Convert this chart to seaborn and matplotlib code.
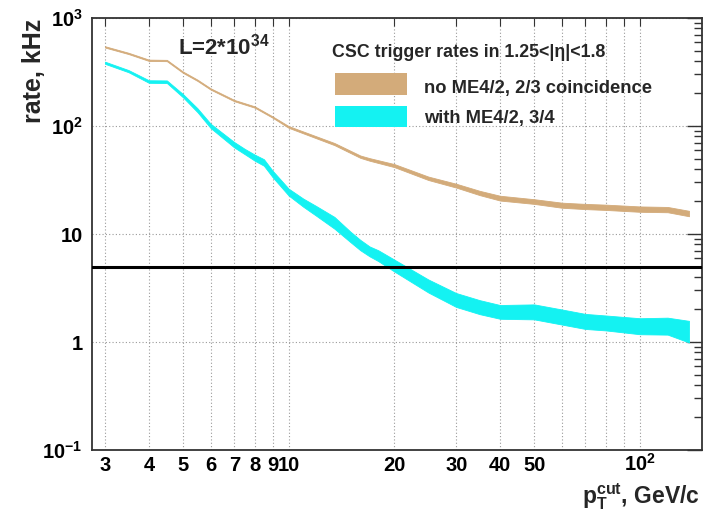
import numpy as np
import pandas as pd
import matplotlib
matplotlib.use("Agg")
import matplotlib.pyplot as plt
import seaborn as sns
from matplotlib.patches import Rectangle
from matplotlib.ticker import FixedLocator, FixedFormatter, NullFormatter

# ---------------- data ----------------
pt_tan = [3, 3.5, 4, 4.5, 5, 5.5, 6, 7, 8, 9, 10, 13.5, 16, 17, 20, 25, 30,
          35, 40, 50, 60, 70, 80, 100, 120, 138]
tan_lo = [532.6, 463.6, 400.4, 398.5, 310.7, 261.4, 217, 169.6, 147.9, 119.3,
          96.2, 66.5, 50.7, 47.7, 41.6, 31.6, 26.9, 22.9, 20.4, 19.0, 17.5,
          17.0, 16.7, 16.05, 15.9, 14.6]
tan_hi = [547.5, 476.5, 411.6, 409.6, 319.4, 268.7, 223, 174.4, 152.1, 122.7,
          99.8, 69.6, 53.3, 50.4, 44.4, 34.0, 29.2, 25.1, 22.6, 21.0, 19.5,
          19.0, 18.7, 18.0, 17.8, 16.4]

pt_cyan = [3, 3.5, 4, 4.5, 5, 5.5, 6, 7, 7.5, 8, 8.5, 9, 10, 11, 12, 13.5, 15,
           16, 17, 18, 20, 25, 30, 35, 40, 50, 60, 70, 80, 100, 120, 138]
cyan_lo = [376.2, 314.7, 251, 250, 184.5, 134.3, 95.5, 63.3, 54.8, 47.8, 42.9,
           33.6, 22.7, 17.9, 14.7, 11.2, 8.4, 7.07, 6.21, 5.61, 4.49, 2.87,
           2.11, 1.81, 1.64, 1.62, 1.45, 1.32, 1.28, 1.18, 1.17, 0.99]
cyan_hi = [394, 329.5, 265.2, 264.2, 197.7, 145.9, 104.7, 71, 61.4, 54.4, 49.3,
           38.6, 26.3, 21.3, 18.1, 14.4, 10.5, 8.82, 7.67, 7.07, 5.79, 3.79,
           2.84, 2.44, 2.2, 2.23, 2.0, 1.82, 1.76, 1.66, 1.68, 1.57]

threshold = 5.0
series_labels = ["no ME4/2, 2/3 coincidence", "with ME4/2, 3/4"]
legend_title = "CSC trigger rates in 1.25<|\u03b7|<1.8"

x_ticks = [3, 4, 5, 6, 7, 8, 9, 10, 20, 30, 40, 50, 60, 70, 80, 90, 100]
x_tick_labels = ["3", "4", "5", "6", "7", "8", "9", "10", "20", "30", "40",
                 "50", "", "", "", "", r"$10^{2}$"]
y_ticks = [0.1, 1, 10, 100, 1000]
y_tick_labels = [r"$10^{-1}$", "1", "10", r"$10^{2}$", r"$10^{3}$"]

# ---------------- style ----------------
sns.set_style("white")
plt.rcParams["font.family"] = ["Liberation Sans", "DejaVu Sans"]
plt.rcParams["font.weight"] = "bold"
plt.rcParams["mathtext.fontset"] = "custom"
plt.rcParams["mathtext.rm"] = "Liberation Sans:bold"
plt.rcParams["mathtext.it"] = "Liberation Sans:bold"
plt.rcParams["mathtext.bf"] = "Liberation Sans:bold"
plt.rcParams["mathtext.sf"] = "Liberation Sans:bold"

tan_col = "#d3ab7a"
cyan_col = "#14f2f2"

W, H = 708, 514
fig = plt.figure(figsize=(W / 100, H / 100), dpi=100)
L, R, T, B = 92.3, 701.7, 18, 450
ax = fig.add_axes([L / W, 1 - B / H, (R - L) / W, (B - T) / H])
ax.set_xscale("log")
ax.set_yscale("log")


def ax_xy(px, py):
    return (px - L) / (R - L), (B - py) / (B - T)


def band_frame(x, lo, hi):
    return pd.DataFrame({"pt": list(x) + list(x), "rate": list(lo) + list(hi)})


for x, lo, hi, col in [(pt_tan, tan_lo, tan_hi, tan_col),
                       (pt_cyan, cyan_lo, cyan_hi, cyan_col)]:
    sns.lineplot(data=band_frame(x, lo, hi), x="pt", y="rate", ax=ax,
                 estimator="median", errorbar=("pi", 100), color=col,
                 linewidth=0, err_kws={"alpha": 1, "linewidth": 0.6,
                                        "edgecolor": col}, zorder=3)

ax.axhline(threshold, color="black", linewidth=2.2, zorder=4)

ax.set_xlim(2.76, 150)
ax.set_ylim(0.1, 1000)

ax.xaxis.set_major_locator(FixedLocator(x_ticks))
ax.xaxis.set_major_formatter(FixedFormatter(x_tick_labels))
ax.xaxis.set_minor_locator(FixedLocator([]))
ax.yaxis.set_major_locator(FixedLocator(y_ticks))
ax.yaxis.set_major_formatter(FixedFormatter(y_tick_labels))
ax.yaxis.set_minor_locator(FixedLocator(
    [m * d for d in [0.1, 1, 10, 100] for m in range(2, 10)]))
ax.yaxis.set_minor_formatter(NullFormatter())

ax.tick_params(axis="both", which="both", direction="in", top=True,
               right=True, colors="#333333", labelcolor="black")
ax.tick_params(axis="x", which="major", length=6, width=0.8, labelsize=14.5,
               pad=15.3)
ax.tick_params(axis="y", which="major", length=11, width=1.0, labelsize=14.5,
               pad=7)
ax.tick_params(axis="y", which="minor", length=6, width=1.0)
for tk in ax.xaxis.get_major_ticks():
    tk.label1.set_verticalalignment("baseline")

ax.grid(True, which="major", axis="both", color="#9a9a9a",
        linestyle=(0, (1, 2)), linewidth=0.8, zorder=1)
ax.set_axisbelow(True)
for s in ax.spines.values():
    s.set_color("#333333")
    s.set_linewidth(1.3)

ax.set_xlabel("")
ax.set_ylabel("")

fig.text(34 / W, 1 - 19 / H, "rate, kHz", rotation=90, ha="center",
         va="top", fontsize=18, fontweight="bold")
fig.text(700 / W, 1 - 503 / H, r"$\mathrm{p_{T}^{cut}}$, GeV/c",
         ha="right", va="baseline", fontsize=16.5, fontweight="bold")

ax.text(*ax_xy(178, 55), r"L=2*10$^{34}$", transform=ax.transAxes,
        fontsize=16, fontweight="bold", ha="left", va="baseline")

# legend (title, two colour boxes and labels)
ax.text(*ax_xy(331.5, 57), legend_title, transform=ax.transAxes,
        fontsize=12.8, fontweight="bold", ha="left", va="baseline")
for (ytop, ybot, ybase), col, lab in zip([(73, 95, 93), (106, 127, 123)],
                                         [tan_col, cyan_col], series_labels):
    x0, y0 = ax_xy(335, ybot)
    x1, y1 = ax_xy(407, ytop)
    ax.add_patch(Rectangle((x0, y0), x1 - x0, y1 - y0, transform=ax.transAxes,
                           facecolor=col, edgecolor="none", zorder=5,
                           label=lab))
    ax.text(*ax_xy(424, ybase), lab, transform=ax.transAxes, fontsize=13.2,
            fontweight="bold", ha="left", va="baseline")

fig.savefig("out.png", dpi=100)
